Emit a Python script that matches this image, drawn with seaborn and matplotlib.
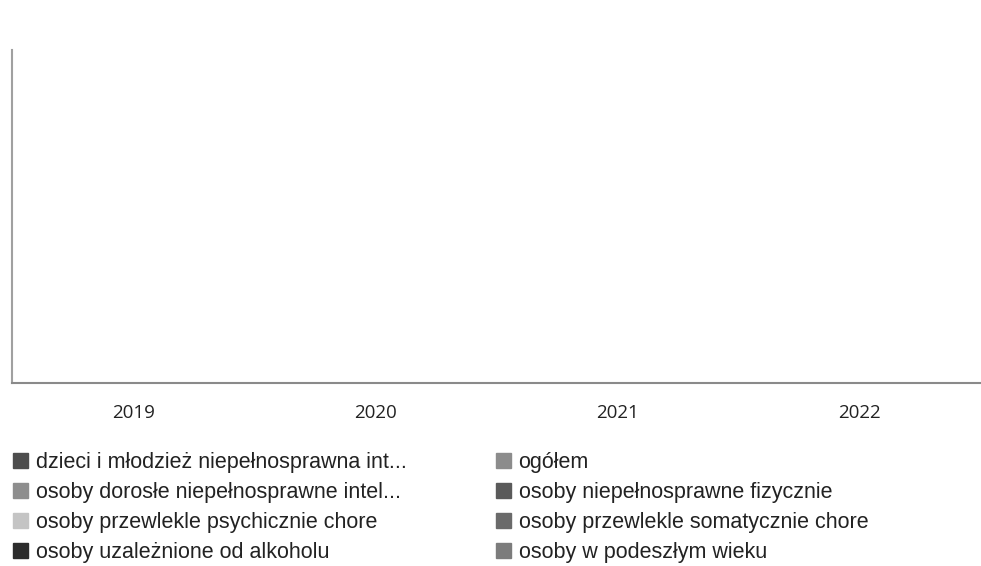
import matplotlib
matplotlib.use("Agg")
import matplotlib.pyplot as plt
from matplotlib.patches import Patch
import seaborn as sns
import pandas as pd

lata = ["2019", "2020", "2021", "2022"]

kategorie = [
    "dzieci i młodzież niepełnosprawna int...",
    "ogółem",
    "osoby dorosłe niepełnosprawne intel...",
    "osoby niepełnosprawne fizycznie",
    "osoby przewlekle psychicznie chore",
    "osoby przewlekle somatycznie chore",
    "osoby uzależnione od alkoholu",
    "osoby w podeszłym wieku",
]

kolory = ["#4d4d4d", "#8c8c8c", "#8e8e8e", "#5a5a5a",
          "#c4c4c4", "#6a6a6a", "#2c2c2c", "#7c7c7c"]

# wartosci nie sa widoczne na wykresie - slupki puste
wartosci = [
    [0, 0, 0, 0],
    [0, 0, 0, 0],
    [0, 0, 0, 0],
    [0, 0, 0, 0],
    [0, 0, 0, 0],
    [0, 0, 0, 0],
    [0, 0, 0, 0],
    [0, 0, 0, 0],
]

rows = []
for kat, vals in zip(kategorie, wartosci):
    for rok, v in zip(lata, vals):
        rows.append({"rok": rok, "kategoria": kat, "wartosc": v})
df = pd.DataFrame(rows)

sns.set_style("white")
plt.rcParams["font.family"] = ["Open Sans", "DejaVu Sans"]

fig = plt.figure(figsize=(9.81, 5.66), dpi=100)
ax = fig.add_axes([12 / 981, 1 - 383 / 566, 1 - 12 / 981, (383 - 50) / 566])

sns.barplot(data=df, x="rok", y="wartosc", hue="kategoria", order=lata,
            hue_order=kategorie, palette=kolory, ax=ax, legend=False)

ax.set_xlim(-0.5, 3.5)
ax.set_ylim(0, 1)
ax.set_xlabel("")
ax.set_ylabel("")
ax.set_yticks([])
ax.tick_params(axis="x", length=0, pad=15, labelsize=13.5, labelcolor="#222222")
for s in ["top", "right"]:
    ax.spines[s].set_visible(False)
ax.spines["left"].set_color("#a0a0a0")
ax.spines["bottom"].set_color("#8a8a8a")
ax.spines["left"].set_linewidth(1.5)
ax.spines["bottom"].set_linewidth(1.5)

uchwyty = [Patch(facecolor=c, edgecolor=c) for c in kolory]
lewa = [0, 2, 4, 6]
prawa = [1, 3, 5, 7]
for idx, x0 in [(lewa, 13 / 981), (prawa, 496 / 981)]:
    leg = fig.legend([uchwyty[i] for i in idx], [kategorie[i] for i in idx],
                     loc="upper left", bbox_to_anchor=(x0, 1 - 452 / 566),
                     frameon=False, handlelength=0.7, handleheight=0.7,
                     handletextpad=0.35, labelspacing=0.42,
                     borderaxespad=0, borderpad=0,
                     prop={"family": ["Liberation Sans", "DejaVu Sans"], "size": 15.5})
    for t in leg.get_texts():
        t.set_color("#222222")

fig.savefig("out.png", dpi=100, facecolor="white")
